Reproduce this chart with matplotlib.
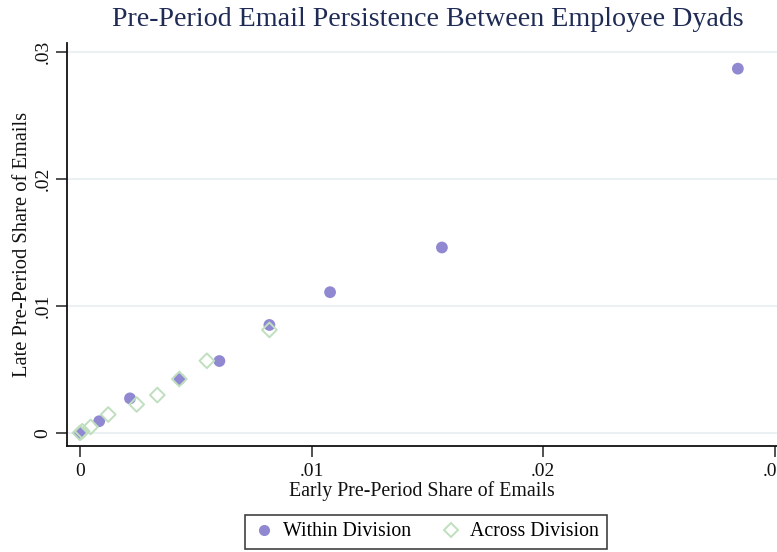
import matplotlib
matplotlib.use("Agg")
import matplotlib.pyplot as plt
from matplotlib.lines import Line2D

# Within-division dyads: early vs late pre-period share of emails
within_x = [0.0, 0.00083, 0.00216, 0.0043, 0.00602, 0.00818, 0.0108, 0.01563, 0.02841]
within_y = [0.0, 0.00092, 0.00272, 0.00424, 0.00566, 0.0085, 0.01108, 0.0146, 0.02868]

# Across-division dyads
across_x = [0.0, 0.0001, 0.00046, 0.00122, 0.00245, 0.00334, 0.00429, 0.00548, 0.00818]
across_y = [0.0, 0.00013, 0.00047, 0.00145, 0.00224, 0.00298, 0.00424, 0.00568, 0.00811]

x_ticks = [0, 0.01, 0.02, 0.03]
x_ticklabels = ["0", ".01", ".02", ".03"]
y_ticks = [0, 0.01, 0.02, 0.03]
y_ticklabels = ["0", ".01", ".02", ".03"]

title = "Pre-Period Email Persistence Between Employee Dyads"
xlabel = "Early Pre-Period Share of Emails"
ylabel = "Late Pre-Period Share of Emails"
series_names = ["Within Division", "Across Division"]

within_color = "#9089d2"
across_color = "#bfdfbf"
grid_color = "#e9f0f2"
title_color = "#1f2b55"

plt.rcParams["font.family"] = ["Liberation Serif", "DejaVu Serif"]

W, H = 777, 552
fig = plt.figure(figsize=(W / 100, H / 100), dpi=100)
left, right, top, bottom = 67, 777, 43, 446
ax = fig.add_axes([left / W, 1 - bottom / H, (right - left) / W, (bottom - top) / H])

ax.set_xlim(-0.00056, 0.0301)
ax.set_ylim(-0.00103, 0.0307)

for yt in y_ticks:
    ax.axhline(yt, color=grid_color, lw=1.3, zorder=0)

ax.scatter(within_x, within_y, s=72, color=within_color, edgecolors="none", zorder=3)
ax.scatter(across_x, across_y, s=56, marker="D", facecolors="none",
           edgecolors=across_color, linewidths=1.4, zorder=4)

ax.set_xticks(x_ticks)
ax.set_xticklabels(x_ticklabels)
ax.set_yticks(y_ticks)
ax.set_yticklabels(y_ticklabels, rotation=90, va="center")
ax.tick_params(axis="both", direction="out", length=8, width=1.1, color="#222222",
               labelsize=14, labelcolor="#111111")
ax.tick_params(axis="x", pad=4)
ax.tick_params(axis="y", pad=3)

for side in ("top", "right"):
    ax.spines[side].set_visible(False)
for side in ("left", "bottom"):
    ax.spines[side].set_linewidth(1.3)
    ax.spines[side].set_color("#111111")

ax.set_xlabel(xlabel, fontsize=14.3, color="#111111", labelpad=1)
ax.set_ylabel(ylabel, fontsize=14.8, color="#111111", labelpad=2)

fig.text(428 / W, 1 - 19 / H, title, fontsize=20.2, color=title_color,
         ha="center", va="center")

handles = [
    Line2D([], [], ls="none", marker="o", markersize=8, color=within_color, markeredgecolor="none"),
    Line2D([], [], ls="none", marker="D", markersize=7.5, markerfacecolor="none",
           markeredgecolor=across_color, markeredgewidth=1.4),
]
leg = fig.legend(handles, series_names, loc="center", bbox_to_anchor=(426 / W, 1 - 532 / H),
                 ncol=2, fontsize=14.3, frameon=True, fancybox=False, edgecolor="#111111",
                 handletextpad=0.4, columnspacing=1.5, borderpad=0.4, handlelength=1.1)
leg.get_frame().set_linewidth(1.2)

fig.savefig("out.png", dpi=100)
